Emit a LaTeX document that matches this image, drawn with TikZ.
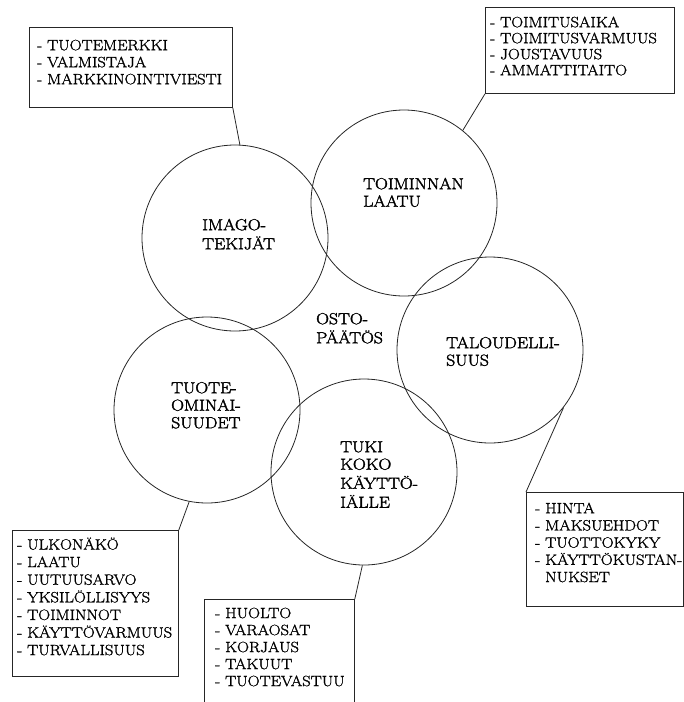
\documentclass[tikz,border=0pt]{standalone}
\usepackage{fontspec}
\setmainfont{Latin Modern Roman}[FakeBold=1.5, FakeStretch=1.11]
\newfontfamily\ringfont{Latin Modern Roman}[FakeBold=2.2, FakeStretch=1.11]
\begin{document}
\begin{tikzpicture}[x=1pt,y=-1pt,
  ring/.style={draw=black!85, line width=0.8pt, circle, minimum size=186pt, inner sep=0pt},
  listbox/.style={draw=black!85, line width=0.8pt, rectangle, inner sep=0pt, anchor=north west},
  leader/.style={draw=black!85, line width=0.8pt},
  listtext/.style={anchor=north west, inner sep=0pt, align=left, font=\fontsize{14.9}{17}\selectfont},
  ringtext/.style={anchor=north west, inner sep=0pt, align=left, font=\ringfont\fontsize{16}{17.5}\selectfont},
]
\useasboundingbox (0,0) rectangle (684,702);

% the five factor circles
\node[ring] (c1) at (235,238) {};
\node[ring] (c2) at (404,203) {};
\node[ring] (c3) at (490,350) {};
\node[ring] (c4) at (207,410) {};
\node[ring] (c5) at (364,472) {};

% circle captions
\node[ringtext] (l1) at (202,217.75) {\strut IMAGO-\\\strut TEKIJÄT};
\node[ringtext] (l2) at (363,176.75) {\strut TOIMINNAN\\\strut LAATU};
\node[ringtext] (l0) at (316,311.75) {\strut OSTO-\\\strut PÄÄTÖS};
\node[ringtext] (l3) at (446,335.75) {\strut TALOUDELLI-\\\strut SUUS};
\node[ringtext] (l4) at (171,380.75) {\strut TUOTE-\\\strut OMINAI-\\\strut SUUDET};
\node[ringtext] (l5) at (340,439.75) {\strut TUKI\\\strut KOKO\\\strut KÄYTTÖ-\\\strut IÄLLE};

% list boxes
\node[listbox, minimum width=203pt, minimum height=80pt] (b1) at (29,27) {};
\node[listbox, minimum width=189pt, minimum height=86pt] (b2) at (485,7) {};
\node[listbox, minimum width=157pt, minimum height=114pt] (b3) at (526,492) {};
\node[listbox, minimum width=166pt, minimum height=146pt] (b4) at (12,530) {};
\node[listbox, minimum width=150pt, minimum height=125pt] (b5) at (204,599) {};

% list contents
\node[listtext] (t1) at (37,38.1) {\strut- TUOTEMERKKI\\\strut- VALMISTAJA\\\strut- MARKKINOINTIVIESTI};
\node[listtext, font=\fontsize{14.9}{16}\selectfont] (t2) at (490,15.8)
  {\strut- TOIMITUSAIKA\\\strut- TOIMITUSVARMUUS\\\strut- JOUSTAVUUS\\\strut- AMMATTITAITO};
\node[listtext, font=\fontsize{14.9}{17.2}\selectfont] (t3) at (535,501)
  {\strut- HINTA\\\strut- MAKSUEHDOT\\\strut- TUOTTOKYKY\\\strut- KÄYTTÖKUSTAN-\\\strut\phantom{- }NUKSET};
\node[listtext, font=\fontsize{14.9}{17.6}\selectfont] (t4) at (17,537)
  {\strut- ULKONÄKÖ\\\strut- LAATU\\\strut- UUTUUSARVO\\\strut- YKSILÖLLISYYS\\\strut- TOIMINNOT\\\strut- KÄYTTÖVARMUUS\\\strut- TURVALLISUUS};
\node[listtext] (t5) at (215,606)
  {\strut- HUOLTO\\\strut- VARAOSAT\\\strut- KORJAUS\\\strut- TAKUUT\\\strut- TUOTEVASTUU};

% leaders from boxes to circles
\draw[leader] (b1.south east) -- (c1.87);
\draw[leader] (b2.south west) -- (c2.51);
\draw[leader] (b3.north west) -- (c3.-38);
\draw[leader] (b4.north east) -- (c4.-101);
\draw[leader] (b5.north east) -- (c5.-91);
\end{tikzpicture}
\end{document}
